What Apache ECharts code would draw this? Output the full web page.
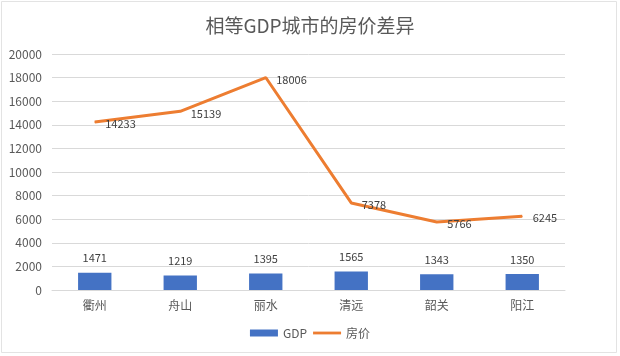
<!DOCTYPE html>
<html><head><meta charset="utf-8">
<script src="https://cdn.jsdelivr.net/npm/echarts@6/dist/echarts.min.js"></script>
<style>html,body{margin:0;padding:0;background:#fff}#c{width:620px;height:356px}</style>
</head><body><div id="c"></div>
<script>
const categories = ['衢州','舟山','丽水','清远','韶关','阳江'];
const gdp = [1471,1219,1395,1565,1343,1350];
const price = [14233,15139,18006,7378,5766,6245];
const yTicks = {min:0, max:20000, interval:2000};
const titleText = '相等GDP城市的房价差异';
const txt = '#595959';
const font = '"Microsoft YaHei","Noto Sans CJK SC","Noto Sans",sans-serif';
const chart = echarts.init(document.getElementById('c'));
chart.setOption({
  animation:false,
  backgroundColor:'#fff',
  textStyle:{fontFamily:font},
  graphic:[{type:'rect',shape:{x:1.5,y:1.5,width:615,height:351},style:{fill:'none',stroke:'#e3e3e3',lineWidth:1},silent:true}],
  title:{text:titleText,left:'center',top:11,textStyle:{fontSize:19,fontWeight:'normal',color:txt,fontFamily:font}},
  legend:{bottom:12,left:'center',itemGap:6,itemWidth:28,itemHeight:7,textStyle:{color:txt,fontSize:12,fontFamily:font},
    data:[{name:'GDP',icon:'rect'},{name:'房价',icon:'path://M0,0 L30,0 L30,3 L0,3 Z'}]},
  grid:{left:52,right:55,top:54,bottom:66,containLabel:false},
  xAxis:{type:'category',data:categories,axisTick:{show:false},
    axisLine:{lineStyle:{color:'#d9d9d9'}},
    axisLabel:{color:txt,fontSize:12,margin:9,fontFamily:font}},
  yAxis:{type:'value',min:yTicks.min,max:yTicks.max,interval:yTicks.interval,
    axisLine:{show:false},axisTick:{show:false},
    splitLine:{lineStyle:{color:'#d9d9d9'}},
    axisLabel:{color:txt,fontSize:12,margin:10,fontFamily:font,formatter:v=>String(v)}},
  series:[
    {name:'GDP',type:'bar',data:gdp,barWidth:'39%',itemStyle:{color:'#4472C4'},
      label:{show:true,position:'top',distance:9,color:'#404040',fontSize:11,fontFamily:font}},
    {name:'房价',type:'line',data:price,symbol:'circle',symbolSize:1,showSymbol:true,lineStyle:{color:'#ED7D31',width:3},itemStyle:{color:'#ED7D31'},
      label:{show:true,position:'right',distance:10,color:'#404040',fontSize:11,fontFamily:font,offset:[0,2]}}
  ]
});
</script></body></html>
